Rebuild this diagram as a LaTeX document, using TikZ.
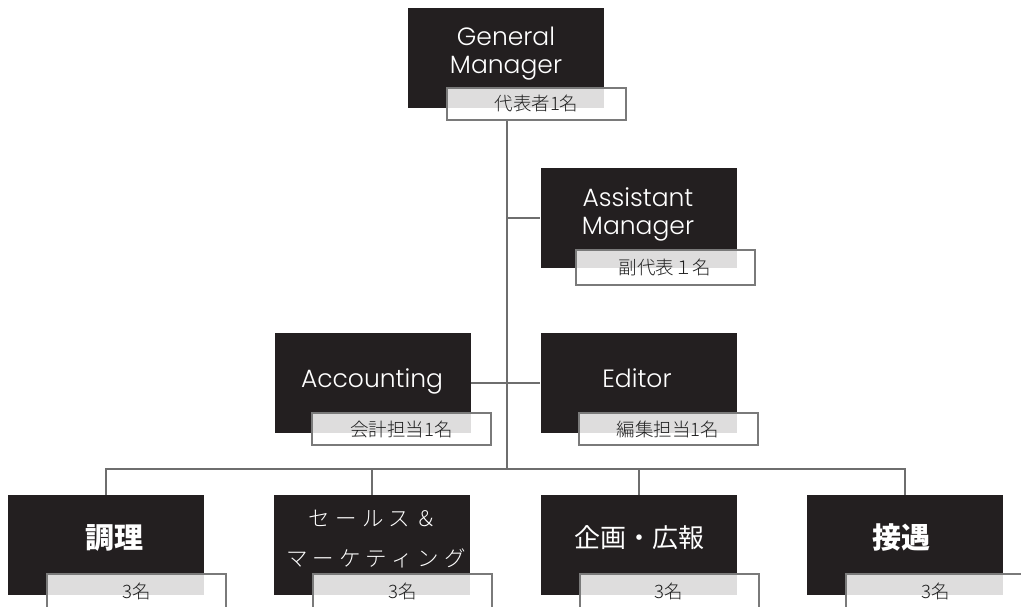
\documentclass[tikz,border=0pt]{standalone}
\usepackage{fontspec}
\IfFontExistsTF{Poppins Light}{\setmainfont{Poppins Light}}{\setmainfont{Poppins}}
\IfFontExistsTF{Noto Sans CJK JP Light}{%
  \newfontfamily\jpthin{Noto Sans CJK JP Light}%
  \newfontfamily\jpls{Noto Sans CJK JP Light}[LetterSpace=24]}{%
  \newfontfamily\jpthin{Noto Sans CJK JP}%
  \newfontfamily\jpls{Noto Sans CJK JP}[LetterSpace=24]}
\newfontfamily\jp{Noto Sans CJK JP}
\definecolor{boxblack}{HTML}{231F20}
\definecolor{linegray}{HTML}{6E6E6E}
\definecolor{labgray}{HTML}{7A7A7A}
\tikzset{
  blk/.style={fill=boxblack, draw=none, minimum width=196pt, minimum height=100pt, inner sep=0pt},
  lab/.style={draw=labgray, line width=2pt, fill=white, fill opacity=0.85, text opacity=1,
     minimum width=179pt, minimum height=32pt, inner sep=0pt, font=\jpthin\fontsize{18.5}{20}\selectfont, text=black!88},
  en/.style={text=white, font=\fontsize{25}{28}\selectfont, align=center, inner sep=0pt},
  jpb/.style={text=white, font=\jp\bfseries\fontsize{29}{32}\selectfont, inner sep=0pt},
  jpr/.style={text=white, font=\jp\fontsize{26}{30}\selectfont, inner sep=0pt},
  jpl/.style={text=white, font=\jpls\fontsize{21.5}{24}\selectfont, inner sep=0pt},
  conn/.style={draw=linegray, line width=2pt},
}
\begin{document}
\begin{tikzpicture}[x=1pt,y=-1pt]
\useasboundingbox (0,0) rectangle (1021,606);
% black boxes
\node[blk] (gm) at (506,58) {};
\node[blk] (am) at (638.5,218) {};
\node[blk] (acc) at (372.5,382.5) {};
\node[blk] (ed) at (638.5,382.5) {};
\node[blk] (c1) at (106,545) {};
\node[blk] (c2) at (372,545) {};
\node[blk] (c3) at (639,545) {};
\node[blk] (c4) at (905,545) {};
% connectors
\coordinate (t0) at (507,119);
\coordinate (t1) at (507,469);
\draw[conn] (t0) -- (t1);
\draw[conn] (am.west -| t0) -- (am.west);
\draw[conn] (acc.east) -- (ed.west);
\draw[conn] (c1.north) |- (t1) -| (c4.north);
\draw[conn] (c2.north) -- (c2.north |- t1);
\draw[conn] (c3.north) -- (c3.north |- t1);
% texts
\node[en] (gmt) at (506,54) {General\\Manager};
\node[en] (amt) at (638,214) {Assistant\\Manager};
\node[en, anchor=base] (acct) at (372,387) {Accounting};
\node[en, anchor=base] (edt) at (637,387) {Editor};
\node[jpb] (c1t) at (114,538) {調理};
\node[jpl] (c2a) at (373,518) {セールス＆};
\node[jpl] (c2b) at (376,558) {マーケティング};
\node[jpr] (c3t) at (639,538) {企画・広報};
\node[jpb] (c4t) at (901,538) {接遇};
% labels
\node[lab] (gml) at (536.5,103.5) {代表者1名};
\node[lab, minimum height=35pt] (aml) at (665,267.5) {副代表１名};
\node[lab] (accl) at (401.5,429) {会計担当1名};
\node[lab] (edl) at (668,429) {編集担当1名};
\node[lab, minimum height=35pt] (c1l) at (136.5,591.5) {3名};
\node[lab, minimum height=35pt] (c2l) at (402.5,591.5) {3名};
\node[lab, minimum height=35pt] (c3l) at (669,591.5) {3名};
\node[lab, minimum height=35pt] (c4l) at (935.5,591.5) {3名};
\end{tikzpicture}
\end{document}
